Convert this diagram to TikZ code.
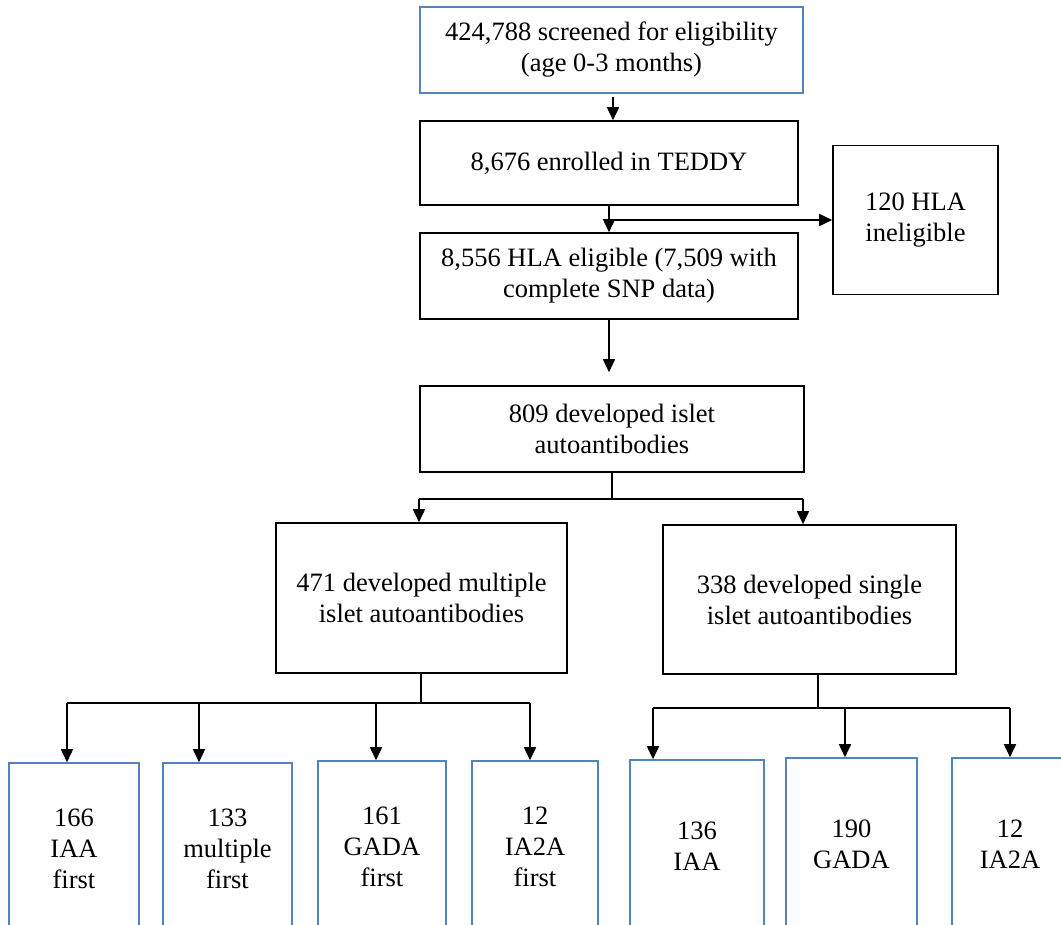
\documentclass[tikz,border=0pt]{standalone}
\usepackage{fontspec}
\setmainfont{Liberation Serif}
\usepackage{tikz}
\usetikzlibrary{arrows.meta}

\definecolor{boxblue}{RGB}{84,130,186}

\begin{document}
\begin{tikzpicture}[x=1pt, y=-1pt,
	every node/.style={font=\fontsize{26.5}{31}\selectfont, align=center, inner sep=0pt},
	box/.style={shape=rectangle, draw=black, line width=1.6pt},
	bluebox/.style={shape=rectangle, draw=boxblue, line width=1.6pt},
	link/.style={line width=1.7pt},
	arr/.style={-{Triangle[width=12pt,length=13pt]}, line width=1.7pt}]
	\useasboundingbox (0,0) rectangle (1061,925);
	\clip (0,0) rectangle (1061,925);

	\node[bluebox, minimum width=383pt, minimum height=86pt]  (screen) at (611.5, 50)  {424,788 screened for eligibility\\(age 0-3 months)};
	\node[box, minimum width=378pt, minimum height=84pt]      (enrol)  at (609, 163)   {8,676 enrolled in TEDDY};
	\node[box, minimum width=378pt, minimum height=86pt]      (elig)   at (609, 276)   {8,556 HLA eligible (7,509 with\\complete SNP data)};
	\node[box, minimum width=165pt, minimum height=149pt]     (inelig) at (915.5, 220) {120 HLA\\ineligible};
	\node[box, minimum width=384pt, minimum height=86pt]      (aab)    at (612, 429)   {809 developed islet\\autoantibodies};
	\node[box, minimum width=291pt, minimum height=150pt]     (multi)  at (421.5, 598) {471 developed multiple\\islet autoantibodies};
	\node[box, minimum width=293pt, minimum height=149pt]     (single) at (809.5, 599.5) {338 developed single\\islet autoantibodies};

	\node[bluebox, minimum width=130pt, minimum height=172pt] (iaaf)  at (74, 849)    {166\\IAA\\first};
	\node[bluebox, minimum width=129pt, minimum height=172pt] (multf) at (227.5, 849) {133\\multiple\\first};
	\node[bluebox, minimum width=128pt, minimum height=172pt] (gadaf) at (382, 847)   {161\\GADA\\first};
	\node[bluebox, minimum width=126pt, minimum height=172pt] (ia2af) at (535, 847)   {12\\IA2A\\first};
	\node[bluebox, minimum width=134pt, minimum height=172pt] (iaa)   at (697, 846)   {136\\IAA};
	\node[bluebox, minimum width=131pt, minimum height=172pt] (gada)  at (851.5, 844) {190\\GADA};
	\node[bluebox, minimum width=116pt, minimum height=172pt] (ia2a)  at (1010, 844)  {12\\IA2A};

	% top of the flow
	\coordinate (top) at (613, 97);
	\draw[arr] (top) -- (top |- enrol.north);
	\draw[arr] (enrol.south) -- (elig.north);
	\coordinate (hla) at (enrol.south |- inelig.west);
	\draw[arr] (hla) -- (inelig.west);
	\draw[arr, shorten >=13pt] (elig.south) -- (elig.south |- aab.north);

	% split by number of autoantibodies
	\coordinate (abus) at (612, 499);
	\coordinate (al) at (419, 499);
	\coordinate (ar) at (803, 499);
	\draw[link] (aab.south) -- (abus);
	\draw[link] (al) -- (ar);
	\draw[arr] (al) -- (al |- multi.north);
	\draw[arr] (ar) -- (ar |- single.north);

	% multiple: first autoantibody
	\coordinate (mbus) at (421, 703);
	\coordinate (m1) at (67, 703);
	\coordinate (m2) at (199, 703);
	\coordinate (m3) at (376, 703);
	\coordinate (m4) at (530, 703);
	\draw[link] (multi.south -| mbus) -- (mbus);
	\draw[link] (m1) -- (m4);
	\draw[arr] (m1) -- (m1 |- iaaf.north);
	\draw[arr] (m2) -- (m2 |- multf.north);
	\draw[arr] (m3) -- (m3 |- gadaf.north);
	\draw[arr] (m4) -- (m4 |- ia2af.north);

	% single: which autoantibody
	\coordinate (sbus) at (818, 708);
	\coordinate (s1) at (653, 708);
	\coordinate (s2) at (845, 708);
	\coordinate (s3) at (1010, 708);
	\draw[link] (single.south -| sbus) -- (sbus);
	\draw[link] (s1) -- (s3);
	\draw[arr] (s1) -- (s1 |- iaa.north);
	\draw[arr] (s2) -- (s2 |- gada.north);
	\draw[arr] (s3) -- (s3 |- ia2a.north);
\end{tikzpicture}
\end{document}
